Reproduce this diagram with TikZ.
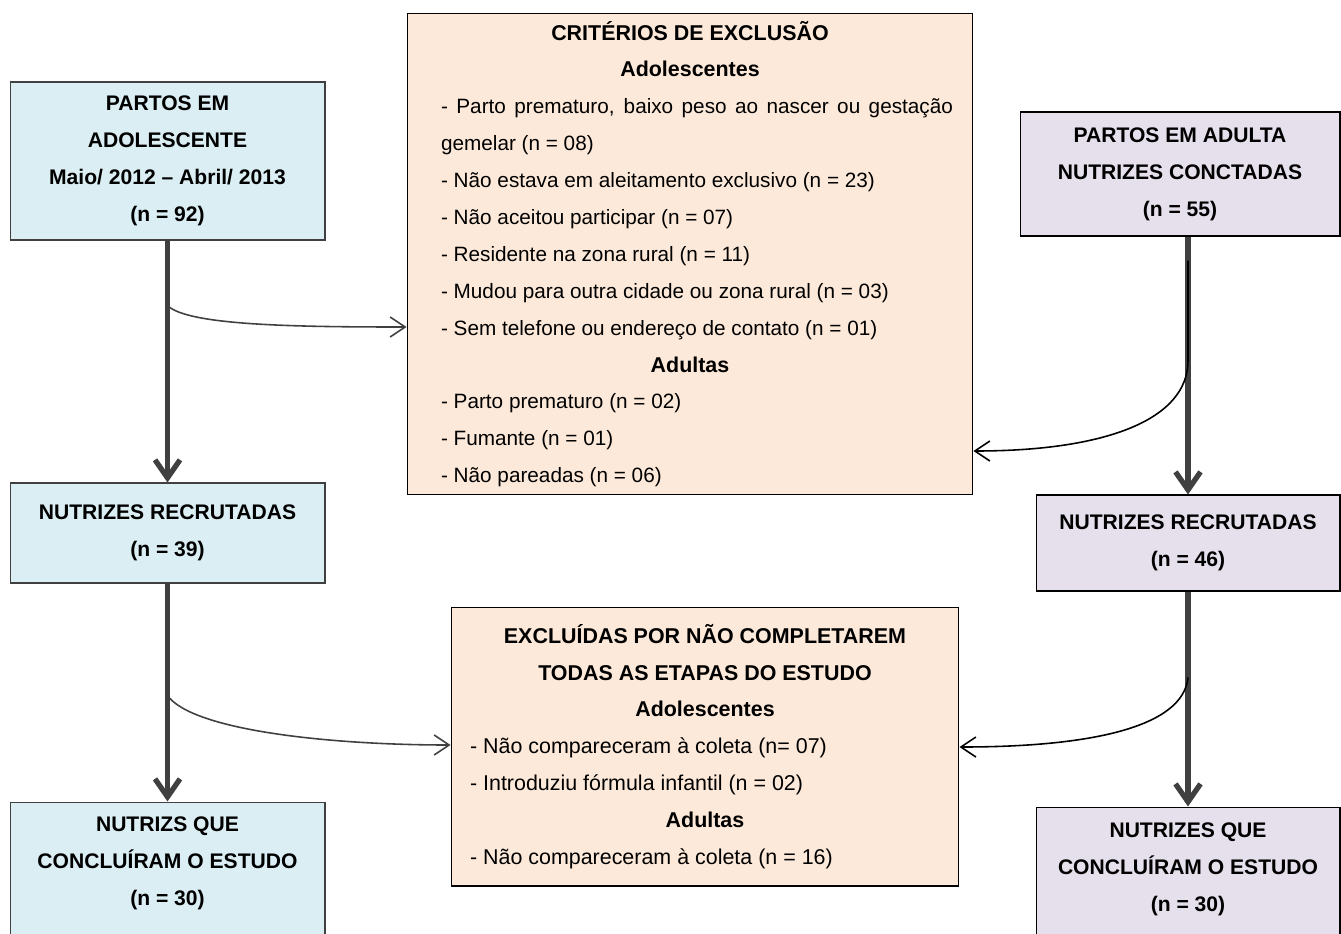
\documentclass[tikz,border=0pt]{standalone}
\usepackage{fontspec}
\setmainfont{Liberation Sans}
\usetikzlibrary{arrows.meta}
\setlength{\parindent}{0pt}
\hyphenpenalty=10000
\definecolor{adolblue}{HTML}{DAEEF3}
\definecolor{exclpeach}{HTML}{FDE9D9}
\definecolor{adultlilac}{HTML}{E5E0EC}
\definecolor{arrowgray}{HTML}{404040}
\newcommand{\exclhead}{\centering\fontsize{12.2}{21}\selectfont\bfseries}
\tikzset{
  flowbox/.style={draw=black, line width=0.6pt, inner sep=0pt, align=center,
    font=\fontsize{12}{21}\selectfont\bfseries},
  adolbox/.style={flowbox, fill=adolblue, draw=arrowgray},
  adultbox/.style={flowbox, fill=adultlilac},
  exclbox/.style={draw=black, line width=0.6pt, fill=exclpeach, inner ysep=0pt, align=justify,
    font=\fontsize{11.8}{21}\selectfont},
  mainarrow/.style={line width=3pt, arrowgray, -{Straight Barb[length=0.36cm,width=0.5cm]}},
  sidearrow/.style={line width=0.9pt, -{Straight Barb[length=0.3cm,width=0.4cm]}},
}
\begin{document}
\begin{tikzpicture}[x=0.02cm,y=-0.02cm]
\useasboundingbox (0,0) rectangle (1341,933);

%BOXES
% adolescents
\node[adolbox, minimum width=6.3cm, minimum height=3.16cm] (A1) at (167.5,161)
  {PARTOS EM\\ADOLESCENTE\\Maio/ 2012 -- Abril/ 2013\\(n = 92)};
\node[adolbox, minimum width=6.3cm, minimum height=2cm] (A2) at (167.5,533)
  {NUTRIZES RECRUTADAS\\(n = 39)};
\node[adolbox, minimum width=6.3cm, minimum height=3.1cm] (A3) at (167.5,879.5)
  {NUTRIZS QUE\\CONCLUÍRAM O ESTUDO\\(n = 30)\\\mbox{}};
% adults
\node[adultbox, minimum width=6.4cm, minimum height=2.48cm] (B1) at (1180,174)
  {PARTOS EM ADULTA\\NUTRIZES CONCTADAS\\(n = 55)};
\node[adultbox, minimum width=6.08cm, minimum height=1.92cm] (B2) at (1188,543)
  {NUTRIZES RECRUTADAS\\(n = 46)};
\node[adultbox, minimum width=6.08cm, minimum height=3.14cm] (B3) at (1188,885.5)
  {NUTRIZES QUE\\CONCLUÍRAM O ESTUDO\\(n = 30)\\\mbox{}};
% exclusions
\node[exclbox, text width=10.52cm, inner xsep=0.4cm, minimum height=9.64cm] (E1) at (690,254)
  {\leftskip=0.28cm \rightskip=0pt
   {\exclhead CRITÉRIOS DE EXCLUSÃO\par Adolescentes\par}
   - Parto prematuro, baixo peso ao nascer ou gestação\linebreak gemelar (n = 08)\par
   - Não estava em aleitamento exclusivo (n = 23)\par
   - Não aceitou participar (n = 07)\par
   - Residente na zona rural (n = 11)\par
   - Mudou para outra cidade ou zona rural (n = 03)\par
   - Sem telefone ou endereço de contato (n = 01)\par
   {\exclhead Adultas\par}
   - Parto prematuro (n = 02)\par
   - Fumante (n = 01)\par
   - Não pareadas (n = 06)\par};
\node[exclbox, font=\fontsize{12.2}{21}\selectfont, text width=9.4cm, inner xsep=0.38cm, minimum height=5.58cm] (E2) at (705,746.5)
  {{\exclhead EXCLUÍDAS POR NÃO COMPLETAREM\par TODAS AS ETAPAS DO ESTUDO\par Adolescentes\par}
   - Não compareceram à coleta (n= 07)\par
   - Introduziu fórmula infantil (n = 02)\par
   {\exclhead Adultas\par}
   - Não compareceram à coleta (n = 16)};

%SPLIT POINTS
\path (A1.south) ++(0,65) coordinate (a1split);
\path (A2.south) ++(0,112) coordinate (a2split);
\path (B1.south -| B2.north) ++(0,24) coordinate (b1top) ++(0,100) coordinate (b1bend);
\path (B2.south) ++(0,86) coordinate (b2bend);

%ARROWS
% main flow
\draw[mainarrow] (A1.south) -- (A2.north);
\draw[mainarrow] (A2.south) -- (A3.north);
\draw[mainarrow] (B1.south -| B2.north) -- (B2.north);
\draw[mainarrow] (B2.south) -- (B3.north);
% exclusions
\draw[sidearrow, arrowgray] (a1split) .. controls +(20,20) and +(-110,0) .. (E1.west |- 0,327);
\draw[sidearrow, arrowgray] (a2split) .. controls +(25,35) and +(-120,0) .. (E2.west |- 0,745);
\draw[sidearrow] (b1top) -- (b1bend) .. controls +(0,60) and +(130,0) .. (E1.east |- 0,451);
\draw[sidearrow] (b2bend) .. controls +(-5,50) and +(130,0) .. (E2.east |- 0,747);

\end{tikzpicture}
\end{document}
